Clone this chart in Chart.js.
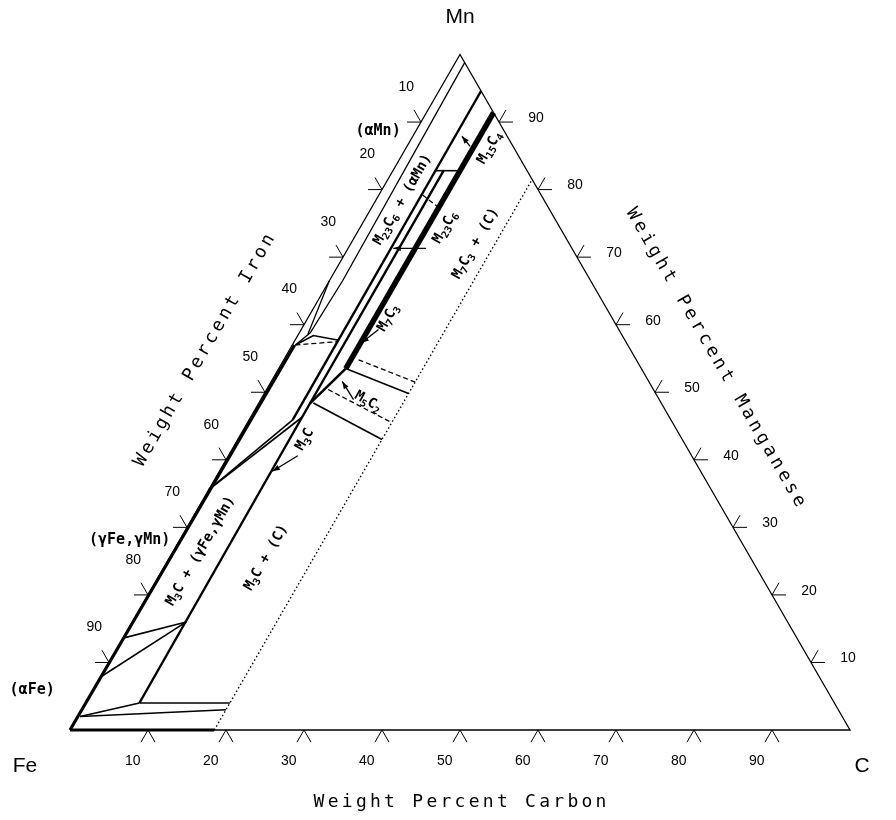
<!DOCTYPE html>
<html>
<head>
<meta charset="utf-8">
<title>Fe-Mn-C isothermal section</title>
<script src="https://cdn.jsdelivr.net/npm/chart.js@4.4.1/dist/chart.umd.min.js"></script>
<style>
  html, body { margin: 0; padding: 0; background: #fff; }
  #wrap { width: 896px; height: 820px; }
</style>
</head>
<body>
<div id="wrap"><canvas id="chart" width="896" height="820"></canvas></div>
<script>
// every point is [wt% C, wt% Mn]; Fe is whatever is left
const cTicks = [10, 20, 30, 40, 50, 60, 70, 80, 90];
const feTicks = [10, 20, 30, 40, 50, 60, 70, 80, 90];
const mnTicks = [10, 20, 30, 40, 50, 60, 70, 80, 90];

const outline = [[0, 0], [100, 0], [0, 100], [0, 0]];
const gammaEdge = [[0, 0], [0.3, 57]];
const feCEdge = [[0, 0], [18.5, 0]];
const graphiteLimit = [[18.5, 0], [18.5, 81.5]];
const alphaMnLine = [[1.2, 98.8], [1.7, 66.5], [1.4, 58.8], [0.4, 57]];
const alphaMnWedge = [[0, 66.5], [1.2, 58.6]];
const m23c6 = [[5.4, 94.6], [5.6, 45.9]];
const m3c = [[6.9, 4], [6.6, 46.3], [6.5, 82.8]];
const m5c2 = [[6.6, 48.4], [8.6, 53.5]];
const m7c3 = [[8.6, 91.4], [8.6, 53.5]];

// tie lines / small fields
const solidTies = [
  [[0.3, 2.0], [6.9, 4.0]],
  [[0.3, 2.0], [18.5, 3.0]],
  [[6.9, 4.0], [18.5, 4.0]],
  [[0, 7.85], [6.9, 16]],
  [[0, 13.6], [6.9, 16]],
  [[0, 35.6], [5.6, 45.9]],
  [[0, 35.6], [6.6, 46.3]],
  [[0.4, 57], [2.0, 58.4], [5.6, 57.7]],
  [[7.0, 48.4], [18.5, 43.0]],
  [[8.6, 53.5], [18.5, 49.8]],
  [[5.4, 82.8], [8.6, 82.8]]
];
const dashedTies = [
  [[0.4, 57], [5.6, 57.5]],
  [[7.9, 50.4], [18.5, 45.5]],
  [[9.6, 54.8], [18.5, 51.5]],
  [[5.6, 79.2], [8.5, 77.4]]
];
const arrows = [
  [[8.9, 40.6], [6.8, 38.3]],
  [[9.9, 59.3], [8.7, 57.3]],
  [[11.9, 48.9], [9.1, 51.6]],
  [[8.1, 86.4], [6.3, 87.9]],
  [[10.0, 71.3], [5.8, 71.3]]
];

const fieldLabels = [
  ['(αMn)', -4.8, 88.6, 0, 15],
  ['(γFe,γMn)', -6.4, 28.1, 0, 15],
  ['(αFe)', -7.8, 5.9, 0, 15],
  ['M_23C_6 + (αMn)', 3.4, 78.5, -60, 14],
  ['M_23C_6', 10.9, 74.4, -60, 14],
  ['M_15C_4', 10.7, 86.2, -60, 14],
  ['M_7C_3 + (C)', 16.0, 72, -60, 14],
  ['M_7C_3', 10.3, 61, -60, 14],
  ['M_5C_2', 13.9, 48.6, 30, 14],
  ['M_3C', 8.6, 43, -60, 14],
  ['M_3C + (γFe,γMn)', 3.5, 26.5, -60, 14],
  ['M_3C + (C)', 12.4, 25.5, -60, 14]
];

const SQ3 = Math.sqrt(3) / 2;
const tern = ([c, mn]) => ({ x: c + mn / 2, y: mn * SQ3 });

function line(points, width, dash) {
  return {
    data: points.map(tern),
    showLine: true,
    borderColor: '#000',
    borderWidth: width,
    borderDash: dash || [],
    pointRadius: 0,
    pointHitRadius: 0,
    fill: false,
    tension: 0
  };
}

const datasets = [
  line(outline, 1.3),
  line(gammaEdge, 3.2),
  line(feCEdge, 3),
  line(graphiteLimit, 1.4, [1.5, 2.5]),
  line(alphaMnLine, 1.3),
  line(alphaMnWedge, 1.3),
  line(m23c6, 2.4),
  line(m3c, 2.4),
  line(m5c2, 2.6),
  line(m7c3, 5.5)
];
solidTies.forEach(t => datasets.push(line(t, 1.6)));
dashedTies.forEach(t => datasets.push(line(t, 1.3, [5, 3])));
arrows.forEach(a => datasets.push(line(a, 1.3)));

// tick chevrons: legs run parallel to the other two sides
const L = 1.8;
cTicks.forEach(v => datasets.push(line([[v, -L], [v, 0], [v + L, -L]], 1)));
feTicks.forEach(v => { const m = 100 - v; datasets.push(line([[-L, m], [0, m], [-L, m + L]], 1)); });
mnTicks.forEach(v => datasets.push(line([[100 - v + L, v], [100 - v, v], [100 - v, v + L]], 1)));

function px(chart, c, mn) {
  const t = tern([c, mn]);
  return [chart.scales.x.getPixelForValue(t.x), chart.scales.y.getPixelForValue(t.y)];
}

function drawRich(ctx, str, x, y, deg, size) {
  const parts = [];
  str.replace(/_(\d+)|([^_]+)/g, (m, sub, txt) => { parts.push(sub ? [sub, true] : [txt, false]); });
  const big = 'bold ' + size + 'px "DejaVu Sans Mono"';
  const small = 'bold ' + Math.round(size * 0.72) + 'px "DejaVu Sans Mono"';
  let w = 0;
  parts.forEach(p => { ctx.font = p[1] ? small : big; w += ctx.measureText(p[0]).width; });
  ctx.save();
  ctx.translate(x, y);
  ctx.rotate(deg * Math.PI / 180);
  ctx.textBaseline = 'middle';
  ctx.textAlign = 'left';
  let cx = -w / 2;
  parts.forEach(p => {
    ctx.font = p[1] ? small : big;
    ctx.fillText(p[0], cx, p[1] ? size * 0.32 : 0);
    cx += ctx.measureText(p[0]).width;
  });
  ctx.restore();
}

function drawSpaced(ctx, str, x, y, deg, font, pitch) {
  ctx.save();
  ctx.translate(x, y);
  ctx.rotate(deg * Math.PI / 180);
  ctx.font = font;
  ctx.textAlign = 'center';
  ctx.textBaseline = 'middle';
  const start = -(str.length - 1) * pitch / 2;
  for (let i = 0; i < str.length; i++) ctx.fillText(str[i], start + i * pitch, 0);
  ctx.restore();
}

const textPlugin = {
  id: 'ternaryText',
  afterDatasetsDraw(chart) {
    const ctx = chart.ctx;
    ctx.save();
    ctx.fillStyle = '#000';

    // arrow heads
    arrows.forEach(([a, b]) => {
      const [x0, y0] = px(chart, a[0], a[1]);
      const [x1, y1] = px(chart, b[0], b[1]);
      const ang = Math.atan2(y1 - y0, x1 - x0);
      ctx.beginPath();
      ctx.moveTo(x1, y1);
      ctx.lineTo(x1 - 8 * Math.cos(ang - 0.35), y1 - 8 * Math.sin(ang - 0.35));
      ctx.lineTo(x1 - 8 * Math.cos(ang + 0.35), y1 - 8 * Math.sin(ang + 0.35));
      ctx.closePath();
      ctx.fill();
    });

    // tick numbers
    ctx.font = '14px "Liberation Sans"';
    ctx.textAlign = 'center';
    ctx.textBaseline = 'middle';
    cTicks.forEach(v => { const [x, y] = px(chart, v + 0.35, -4.6); ctx.fillText(String(v), x, y); });
    feTicks.forEach(v => { const [x, y] = px(chart, -4.5, 100 - v + 5.2); ctx.fillText(String(v), x, y); });
    mnTicks.forEach(v => { const [x, y] = px(chart, 100 - v + 4.45, v + 0.6); ctx.fillText(String(v), x, y); });

    // corners
    ctx.font = '21px "Liberation Sans"';
    let p = px(chart, 0, 0); ctx.fillText('Fe', p[0] - 45, p[1] + 36);
    p = px(chart, 100, 0); ctx.fillText('C', p[0] + 12, p[1] + 36);
    p = px(chart, 0, 100); ctx.fillText('Mn', p[0], p[1] - 37);

    // axis titles
    const tf = '18px "DejaVu Sans Mono"';
    p = px(chart, 50, 0); drawSpaced(ctx, 'Weight Percent Carbon', p[0], p[1] + 72, 0, tf, 14.1);
    p = px(chart, 0, 55); drawSpaced(ctx, 'Weight Percent Iron', p[0] - 80, p[1] - 8, -60, tf, 14.1);
    p = px(chart, 45, 55); drawSpaced(ctx, 'Weight Percent Manganese', p[0] + 80, p[1] - 1, 60, tf, 14.4);

    // phase fields
    fieldLabels.forEach(([s, c, mn, deg, size]) => {
      const q = px(chart, c, mn);
      drawRich(ctx, s, q[0], q[1], deg, size);
    });
    ctx.restore();
  }
};

new Chart(document.getElementById('chart'), {
  type: 'scatter',
  data: { datasets },
  options: {
    responsive: false,
    animation: false,
    devicePixelRatio: 1,
    layout: { padding: 0 },
    plugins: { legend: { display: false }, tooltip: { enabled: false } },
    scales: {
      x: { display: false, min: -70 / 7.8, max: 826 / 7.8 },
      y: { display: false, min: -90 / 7.8, max: 730 / 7.8 }
    }
  },
  plugins: [textPlugin]
});
</script>
</body>
</html>
